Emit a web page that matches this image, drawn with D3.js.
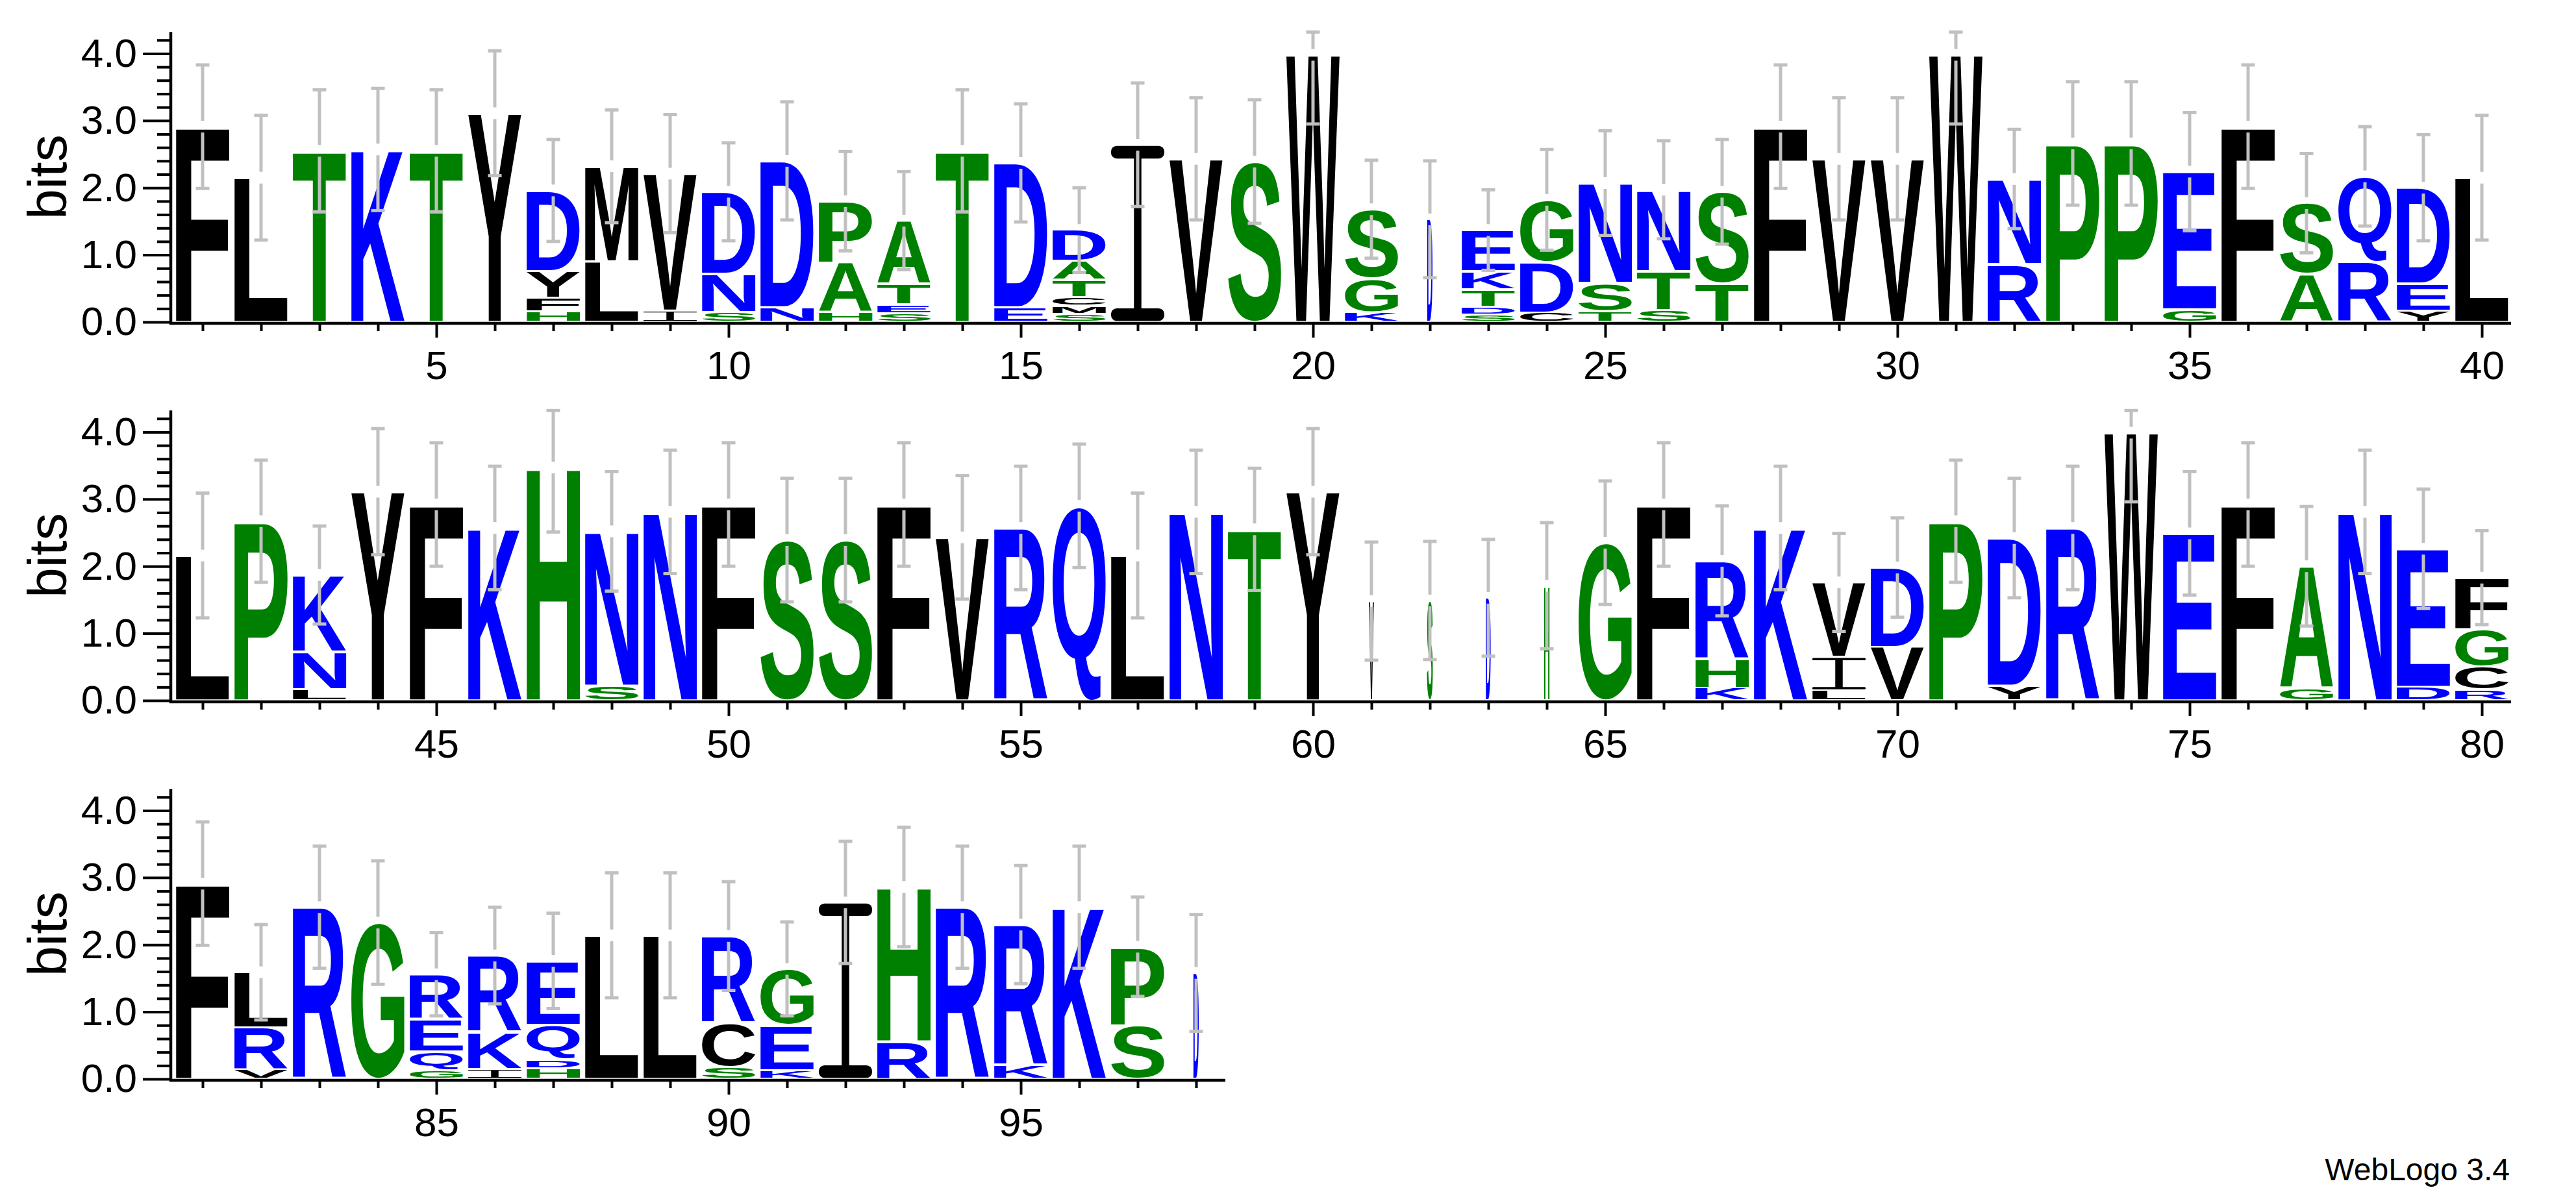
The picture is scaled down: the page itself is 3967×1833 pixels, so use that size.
<!DOCTYPE html>
<html>
<head>
<meta charset="utf-8">
<script src="https://cdn.jsdelivr.net/npm/d3@7"></script>
<style>
html,body{margin:0;padding:0;background:#ffffff;}
svg{display:block;}
</style>
</head>
<body>
<svg id="chart" width="3967" height="1833"></svg>
<script>
// ---------------- DATA ----------------
// sequence positions shown on each line of the logo
const rowStarts = [1, 41, 81];
const rowCounts = [40, 40, 18];

// letters of each stack, bottom to top (position 1..98)
const stackLetters = [
  "F","L","T","K","T","Y","HFYD","LM","IV","SND",
  "ND","HAP","SETA","T","ED","SMCTAD","I","V","S","W",
  "KGS","D","SDTKE","CDG","TSN","STN","TS","F","V","V",
  "W","RN","P","P","GE","F","AS","RQ","YED","L",
  "L","P","LNK","Y","F","K","H","SN","N","F",
  "S","S","F","V","R","Q","L","N","T","Y",
  "V","S","D","H","G","F","KHR","K","LIV","VD",
  "P","YD","R","W","E","F","GA","N","DE","RCGF",
  "F","VRL","R","G","GQER","IKR","HDQE","L","L","SCR",
  "KEG","I","RH","R","KR","K","SP","D"
];

// heights in bits of each letter, bottom to top
const stackHeights = [
  [2.91],[2.15],[2.55],[2.57],[2.55],[3.11],[0.16,0.20,0.40,1.20],[0.90,1.42],[0.17,2.04],[0.15,0.57,1.22],
  [0.22,2.18],[0.14,0.74,0.92],[0.13,0.13,0.31,0.94],[2.55],[0.22,2.15],[0.12,0.12,0.13,0.26,0.28,0.46],[2.64],[2.43],[2.39],[3.98],
  [0.14,0.51,1.03],[1.53],[0.11,0.12,0.26,0.27,0.61],[0.14,0.75,0.93],[0.16,0.42,1.49],[0.18,0.58,1.21],[0.57,1.37],[2.91],[2.43],[2.43],
  [3.98],[0.86,1.27],[2.66],[2.66],[0.19,2.05],[2.91],[0.71,1.06],[0.89,1.28],[0.17,0.40,1.43],[2.15],
  [2.16],[2.67],[0.17,0.56,1.14],[3.11],[2.92],[2.57],[3.47],[0.22,2.30],[2.81],[2.92],
  [2.39],[2.39],[2.92],[2.43],[2.57],[2.90],[2.16],[2.81],[2.55],[3.11],
  [1.48],[1.49],[1.53],[1.71],[2.35],[2.92],[0.19,0.43,1.46],[2.57],[0.15,0.50,1.11],[0.80,1.18],
  [2.67],[0.22,2.20],[2.57],[3.99],[2.49],[2.92],[0.18,1.82],[2.81],[0.20,2.06],[0.16,0.35,0.55,0.77],
  [2.91],[0.14,0.63,0.82],[2.56],[2.33],[0.13,0.28,0.48,0.67],[0.15,0.55,1.14],[0.16,0.13,0.52,0.95],[2.14],[2.14],[0.18,0.66,1.29],
  [0.13,0.67,0.84],[2.63],[0.56,2.30],[2.56],[0.20,2.10],[2.56],[0.80,1.17],[1.58]
];

// half-length of the error bar at each position (bits)
const errorBars = [
  0.92,0.93,0.91,0.91,0.91,0.93,0.76,0.84,0.88,0.73,
  0.88,0.74,0.73,0.91,0.88,0.63,0.92,0.91,0.92,1.03,
  0.73,0.87,0.60,0.75,0.78,0.73,0.78,0.92,0.91,0.91,
  1.03,0.74,0.92,0.92,0.88,0.92,0.74,0.74,0.79,0.93,
  0.93,0.91,0.73,0.94,0.92,0.92,0.96,0.89,0.92,0.92,
  0.92,0.92,0.92,0.92,0.92,0.92,0.93,0.92,0.91,0.94,
  0.88,0.88,0.87,0.94,0.92,0.92,0.82,0.92,0.73,0.74,
  0.91,0.89,0.92,1.03,0.92,0.92,0.89,0.92,0.89,0.70,
  0.92,0.71,0.91,0.92,0.62,0.72,0.71,0.93,0.93,0.81,
  0.70,0.91,0.89,0.91,0.88,0.91,0.74,0.87
];

// positions whose stack is drawn narrow (low occupancy) and their width fraction
const narrowPositions = [22, 61, 62, 63, 64, 98];
const narrowWidths    = [0.10, 0.09, 0.11, 0.09, 0.10, 0.10];

// axis ticks
const yTickValues = [0, 1, 2, 3, 4];
const yTickLabels = ["0.0", "1.0", "2.0", "3.0", "4.0"];
const yMinorTicks = [0.2,0.4,0.6,0.8,1.2,1.4,1.6,1.8,2.2,2.4,2.6,2.8,3.2,3.4,3.6,3.8,4.2];
const xMajorTicks = [[5,10,15,20,25,30,35,40],[45,50,55,60,65,70,75,80],[85,90,95]];

// colour groups (hydrophobicity scheme)
const hydrophilicResidues = "RKDENQ";
const neutralResidues = "SGHTAP";
const groupColors = {hydrophilic: "#0000ff", neutral: "#008000", hydrophobic: "#000000"};

// ---------------- LAYOUT ----------------
const X0 = 267, COL_W = 90, LETTER_FRAC = 0.912;
const BIT_PX = 103.4, Y_MAX = 4.32;
const rowBaselines = [496, 1079, 1662];
const AXIS_X = 263;
const TEXT_FONT = "'Liberation Sans', Arial, Helvetica, sans-serif";
const GLYPH_FONT = "'Liberation Sans', Arial, Helvetica, sans-serif";

const svg = d3.select("#chart");
svg.append("rect").attr("width", 3967).attr("height", 1833).attr("fill", "#ffffff");

const ctx = document.createElement("canvas").getContext("2d");
ctx.font = "bold 200px " + GLYPH_FONT;
const metricCache = {};
function glyphBox(ch) {
  if (!metricCache[ch]) {
    const m = ctx.measureText(ch);
    metricCache[ch] = {l: m.actualBoundingBoxLeft, r: m.actualBoundingBoxRight,
                       a: m.actualBoundingBoxAscent, d: m.actualBoundingBoxDescent};
  }
  return metricCache[ch];
}
function colorOf(ch) {
  if (hydrophilicResidues.includes(ch)) return groupColors.hydrophilic;
  if (neutralResidues.includes(ch)) return groupColors.neutral;
  return groupColors.hydrophobic;
}

function drawGlyph(g, ch, x0, x1, yT, yB, color) {
  const w = x1 - x0, h = yB - yT;
  if (h <= 0.3 || w <= 0) return;
  if (ch === "I") {
    const t = Math.max(1.2, 0.072 * h);
    const s = Math.max(1.2, 0.14 * w);
    const gi = g.append("g").attr("fill", color);
    gi.append("rect").attr("x", x0).attr("y", yT).attr("width", w).attr("height", t).attr("rx", t * 0.45);
    gi.append("rect").attr("x", x0).attr("y", yB - t).attr("width", w).attr("height", t).attr("rx", t * 0.45);
    gi.append("rect").attr("x", x0 + (w - s) / 2).attr("y", yT + t * 0.5).attr("width", s).attr("height", h - t);
    return;
  }
  const m = glyphBox(ch);
  const gw = m.l + m.r, gh = m.a + m.d;
  g.append("text")
    .attr("x", 0).attr("y", 0)
    .attr("font-family", GLYPH_FONT)
    .attr("font-weight", "bold")
    .attr("font-size", 200)
    .attr("fill", color)
    .attr("transform", `translate(${x0},${yT}) scale(${w / gw},${h / gh}) translate(${m.l},${m.a})`)
    .text(ch);
}

rowStarts.forEach((start, r) => {
  const n = rowCounts[r];
  const base = rowBaselines[r];
  const x = d3.scaleLinear().domain([start - 0.5, start + n - 0.5]).range([X0, X0 + COL_W * n]);
  const y = d3.scaleLinear().domain([0, Y_MAX]).range([base, base - Y_MAX * BIT_PX]);
  const g = svg.append("g");

  // stacks
  const bars = g.append("g");
  for (let p = start; p < start + n; p++) {
    const i = p - 1;
    const letters = stackLetters[i].split("");
    const hs = stackHeights[i];
    const ni = narrowPositions.indexOf(p);
    const wf = ni >= 0 ? narrowWidths[ni] : 1;
    const lw = COL_W * LETTER_FRAC * wf;
    const cx = x(p);
    let cum = 0;
    letters.forEach((ch, k) => {
      const yB = y(cum), yT = y(cum + hs[k]);
      cum += hs[k];
      const inset = Math.min(1.7, (yB - yT) * 0.15);
      drawGlyph(g, ch, cx - lw / 2, cx + lw / 2, yT + inset, yB - inset, colorOf(ch));
    });
    // error bar (clipped to the axis range)
    const e = errorBars[i];
    const yc = y(cum), ytop = y(Math.min(Y_MAX, cum + e)), ybot = y(Math.max(0, cum - e));
    const eb = bars.append("g").attr("stroke", "#c0c0c0").attr("stroke-width", 5);
    eb.append("line").attr("x1", cx).attr("x2", cx).attr("y1", ytop).attr("y2", yc - 9);
    eb.append("line").attr("x1", cx).attr("x2", cx).attr("y1", yc + 9).attr("y2", ybot);
    eb.append("line").attr("x1", cx - 10.5).attr("x2", cx + 10.5).attr("y1", ytop).attr("y2", ytop);
    eb.append("line").attr("x1", cx - 10.5).attr("x2", cx + 10.5).attr("y1", ybot).attr("y2", ybot);
  }
  bars.raise();

  // y axis
  const yMajor = d3.axisLeft(y).tickValues(yTickValues)
    .tickFormat((d, k) => yTickLabels[k]).tickSize(43).tickPadding(9).tickSizeOuter(0);
  const yMinor = d3.axisLeft(y).tickValues(yMinorTicks).tickFormat("").tickSize(21).tickSizeOuter(0);
  const ya = g.append("g").attr("transform", `translate(${AXIS_X},0)`).call(yMajor);
  const ym = g.append("g").attr("transform", `translate(${AXIS_X},0)`).call(yMinor);
  ym.select(".domain").remove();
  ya.select(".domain").remove();
  g.append("line").attr("x1", AXIS_X).attr("x2", AXIS_X)
    .attr("y1", base + 4).attr("y2", y(Y_MAX)).attr("stroke", "#000").attr("stroke-width", 4.5);
  [ya, ym].forEach(a => {
    a.selectAll(".tick line").attr("stroke", "#000").attr("stroke-width", 4);
    a.selectAll(".tick text").attr("font-family", TEXT_FONT).attr("font-size", 62).attr("fill", "#000");
  });

  // x axis
  const positionsInRow = d3.range(start, start + n);
  const minor = positionsInRow.filter(p => !xMajorTicks[r].includes(p));
  const xb = base + 2;
  const xMajor = d3.axisBottom(x).tickValues(xMajorTicks[r]).tickFormat(d3.format("d"))
    .tickSize(22).tickPadding(20).tickSizeOuter(0);
  const xMinor = d3.axisBottom(x).tickValues(minor).tickFormat("").tickSize(12).tickSizeOuter(0);
  const xa = g.append("g").attr("transform", `translate(0,${xb})`).call(xMajor);
  const xm = g.append("g").attr("transform", `translate(0,${xb})`).call(xMinor);
  xa.select(".domain").remove();
  xm.select(".domain").remove();
  g.append("line").attr("x1", AXIS_X - 2).attr("x2", X0 + COL_W * n)
    .attr("y1", xb).attr("y2", xb).attr("stroke", "#000").attr("stroke-width", 4.5);
  [xa, xm].forEach(a => {
    a.selectAll(".tick line").attr("stroke", "#000").attr("stroke-width", 4);
    a.selectAll(".tick text").attr("font-family", TEXT_FONT).attr("font-size", 62).attr("fill", "#000");
  });

  // y label
  g.append("text")
    .attr("transform", `translate(102,${y(Y_MAX / 2)}) rotate(-90)`)
    .attr("text-anchor", "middle")
    .attr("font-family", TEXT_FONT)
    .attr("font-size", 84)
    .attr("fill", "#000")
    .text("bits");
});

svg.append("text")
  .attr("x", 3865).attr("y", 1818)
  .attr("text-anchor", "end")
  .attr("font-family", TEXT_FONT)
  .attr("font-size", 48)
  .attr("fill", "#000")
  .text("WebLogo 3.4");
</script>
</body>
</html>
